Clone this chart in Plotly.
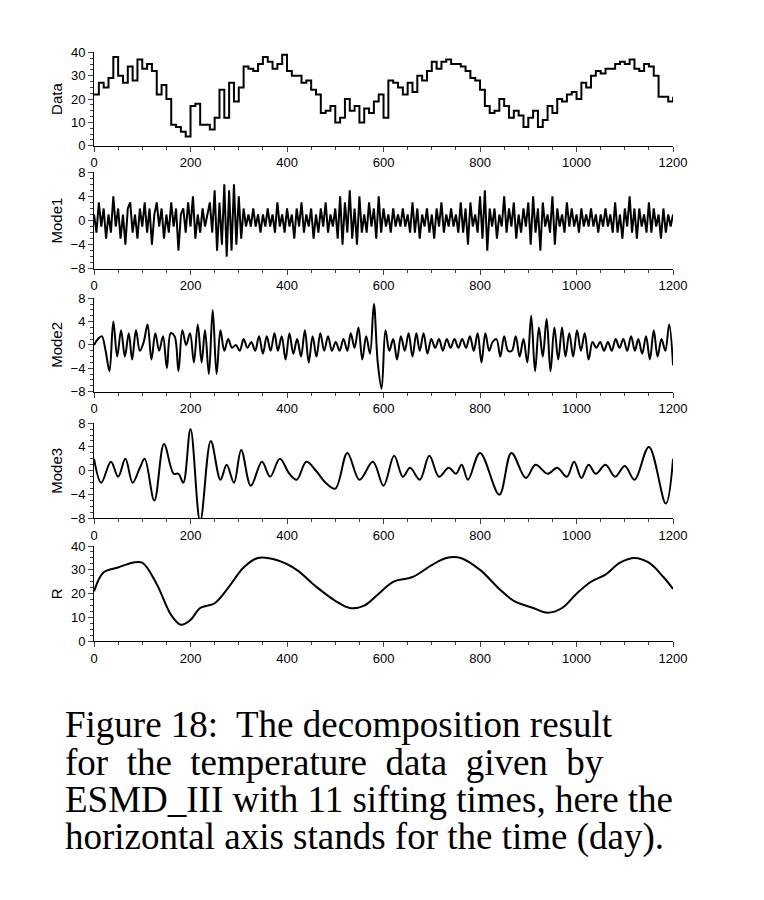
import plotly.graph_objects as go

W, H = 764, 900

data_y = [22, 27, 25, 29, 38, 30, 27, 34, 28, 37, 33, 35, 32, 22, 26, 20, 9, 8, 6, 4,
          17, 18, 9, 9, 7, 12, 24, 12, 27, 19, 25, 34, 33, 32, 35, 38, 36, 33, 35, 39,
          32, 30, 30, 27, 28, 24, 22, 14, 15, 17, 10, 12, 20, 15, 17, 10, 16, 14, 19, 22,
          12, 28, 27, 25, 22, 27, 23, 30, 28, 32, 36, 33, 36, 37, 35, 35, 34, 32, 29, 28,
          24, 17, 14, 15, 20, 17, 12, 15, 13, 8, 12, 15, 8, 11, 17, 14, 20, 19, 22, 23,
          20, 27, 25, 30, 32, 31, 33, 33, 35, 36, 35, 37, 33, 32, 35, 34, 30, 21, 21, 19, 21]
data_x = list(range(0, 1201, 10))

# Mode1, every 5 days
mode1_y = [1, -2, 3, -1, 2, -3, 1, -2, 4, -1, 2, -3, 1, -4, 2, 3, -2, 1, -3, 2,
           -1, 3, -2, 2, -4, 1, 3, -1, 2, -3, 1, -2, 3, -1, 2, -5, 1, 2, -2, 3,
           -1, 4, -3, 1, -2, 2, -1, 1, 3, -2, 5, -5, 3, -4, 6, -6, 5, -5, 6, -4,
           4, -3, 2, -1, 1, -1, 2, -1, 1, -2, 1, -1, 2, -1, 1, -2, 3, -1, 1, -2,
           2, -1, 1, -3, 2, -1, 3, -2, 1, -1, 2, -3, 1, -2, 2, -1, 3, -2, 1, -1,
           2, -3, 4, -4, 3, -2, 5, -3, 2, -4, 4, -2, 1, -2, 3, -1, 2, -3, 4, -2,
           2, -1, 1, -2, 2, -1, 1, -1, 2, -1, 1, -2, 3, -2, 2, -3, 1, -1, 2, -2,
           1, -3, 2, -1, 3, -2, 1, -1, 2, -1, 1, -2, 3, -2, 2, -4, 3, -1, 1, -2,
           4, -3, 5, -5, 2, -1, 2, -3, 1, -1, 4, -2, 2, -1, 3, -3, 1, -2, 2, -1,
           3, -4, 4, -2, 2, -5, 3, -1, 1, -2, 4, -4, 2, -1, 1, -2, 3, -1, 2, -1,
           1, -2, 2, -1, 1, -1, 2, -1, 1, -2, 1, -1, 2, -1, 1, -2, 3, -2, 1, -3,
           2, -1, 4, -2, 2, -3, 2, -1, 1, -2, 3, -2, 2, -1, 1, -3, 2, -2, 1, -1, 1]
mode1_x = list(range(0, 1201, 5))

# Mode2, roughly every 7 days
mode2_y = [0, 1, 1.5, -1, -4.5, 4, -2, 2.5, -2, 2, -2.5, 2.5, -1, 0.5, 3.5, -2.5, 2, -1,
           1.5, -4, 2, 1.5, -4.5, 2.5, 0, 2, -3, 3.5, -3, 2.5, -5, 6, -5, 2.5, -1, 1,
           -0.5, 0, -1, 1, -0.5, 0.5, -1, 1.5, -1.5, 1.5, -1, 2, -1, 1.5, -2.5, 2, -1.5,
           1, -2, 2.5, -3, 1.5, -2, 2, -1, 1.5, -1, 0.5, -1, 1, -1, 2, -0.5, 3, -2.5, 1.5, -1.5,
           7, -3, -7.5, 2.5, -1, 1, -2.5, 1.5, -1, 2, -2, 2, -1, 2, -1.5, 1, -0.5,
           1, -1, 1, -0.5, 1, -0.5, 1, -0.5, 1.5, -1, 2, -3, 2, -1, 0.5, 1, -2,
           1.5, -1, -1, 1.5, -2, 1, -3, 5, -4.5, 3, -2, 4.5, -4.5, 3, -2.5, 3, -2,
           2, -2, 2.5, -1, 2, -2.5, 0.5, -0.5, 0.5, -1, 0.5, -1, 1, -0.5, 1, -1,
           1.5, -1, 1, -1.5, 1.5, -2.5, 2.5, -2, 1, -1, 3.5, -3.5]
mode2_x = [round(i * 1200 / (len(mode2_y) - 1)) for i in range(len(mode2_y))]

# Mode3, peaks and troughs
mode3 = [(0, 2), (15, -2), (35, 1.5), (50, -1), (65, 2), (80, -2), (95, 0.5), (105, 2),
         (125, -5), (145, 4.5), (165, -0.5), (175, -0.5), (185, -2), (200, 7), (220, -8.5),
         (242, 5), (262, -1.5), (275, 1), (290, -2), (305, 3.5), (325, -2.5), (348, 1.5),
         (365, -1), (385, 2), (405, -0.5), (420, -1.5), (440, 1.5), (460, 0), (480, -2),
         (500, -3), (525, 3), (550, -1.5), (578, 1.5), (600, -2.5), (622, 2.5), (640, -1),
         (655, 0.5), (675, -1.5), (695, 2.5), (715, -1), (735, 0.5), (750, -0.5), (762, 1),
         (775, -1.5), (800, 3), (840, -4), (865, 3), (895, -1.2), (915, 1), (940, -0.5),
         (960, 0.5), (980, -1), (995, 1.5), (1010, -1.2), (1025, 1), (1040, -0.5), (1060, 1),
         (1080, -1), (1100, 0.8), (1120, -1.5), (1150, 4), (1185, -5.5), (1200, 2)]

# residual
res = [(0, 21), (20, 29), (50, 31), (80, 33), (100, 33), (130, 24), (160, 11), (180, 7),
       (200, 9), (220, 14), (250, 16), (280, 23), (310, 31), (340, 35), (380, 34), (420, 30),
       (460, 23), (500, 17), (530, 14), (560, 15), (590, 20), (620, 25), (660, 27), (700, 32),
       (730, 35), (760, 35), (800, 30), (840, 22), (870, 17), (910, 14), (940, 12), (970, 14),
       (1000, 20), (1030, 25), (1060, 28), (1090, 33), (1120, 35), (1150, 33), (1180, 27), (1200, 22)]

panels = [
    ("Data", data_x, data_y, "hv", [0, 40], 10, 38, 133),
    ("Mode1", mode1_x, mode1_y, "linear", [-8, 8], 4, 160, 258),
    ("Mode2", mode2_x, mode2_y, "spline", [-8, 8], 4, 288, 383),
    ("Mode3", [p[0] for p in mode3], [p[1] for p in mode3], "spline", [-8, 8], 4, 415, 512),
    ("R", [p[0] for p in res], [p[1] for p in res], "spline", [0, 40], 10, 540, 637),
]

fig = go.Figure()
axfont = dict(family="Liberation Sans, Arial", size=13, color="black")
for i, (name, xs, ys, shape, yr, dt, top, bot) in enumerate(panels, start=1):
    sfx = "" if i == 1 else str(i)
    fig.add_trace(go.Scatter(x=xs, y=ys, mode="lines", line=dict(color="black", width=2, shape=shape),
                             xaxis="x" + sfx, yaxis="y" + sfx, showlegend=False))
    fig.layout["xaxis" + sfx] = dict(domain=[84 / W, 677 / W], range=[0, 1200], anchor="y" + sfx,
                                     tickvals=list(range(0, 1201, 200)), ticks="outside", ticklen=5,
                                     minor=dict(dtick=50, ticks="outside", ticklen=3),
                                     showline=True, linecolor="black", showgrid=False, zeroline=False,
                                     tickfont=axfont)
    fig.layout["yaxis" + sfx] = dict(domain=[1 - bot / H, 1 - top / H], range=yr, anchor="x" + sfx,
                                     tickvals=list(range(yr[0], yr[1] + 1, dt)), ticks="outside", ticklen=5,
                                     minor=dict(dtick=dt / 4, ticks="outside", ticklen=3),
                                     showline=True, linecolor="black", showgrid=False, zeroline=False,
                                     tickfont=axfont,
                                     title=dict(text=name, font=dict(family="Liberation Sans, Arial", size=15, color="black"), standoff=4))

caption = ["Figure 18:  The decomposition result",
           "for  the  temperature  data  given  by",
           "ESMD_III with 11 sifting times, here the",
           "horizontal axis stands for the time (day)."]
for k, line in enumerate(caption):
    fig.add_annotation(text=line, xref="paper", yref="paper", x=52 / W, y=1 - (722 + k * 38) / H,
                       xanchor="left", yanchor="middle", showarrow=False,
                       font=dict(family="Liberation Serif, DejaVu Serif", size=37, color="black"))

fig.update_layout(width=W, height=H, margin=dict(l=0, r=0, t=0, b=0),
                  plot_bgcolor="white", paper_bgcolor="white")
fig.write_html("out.html")
